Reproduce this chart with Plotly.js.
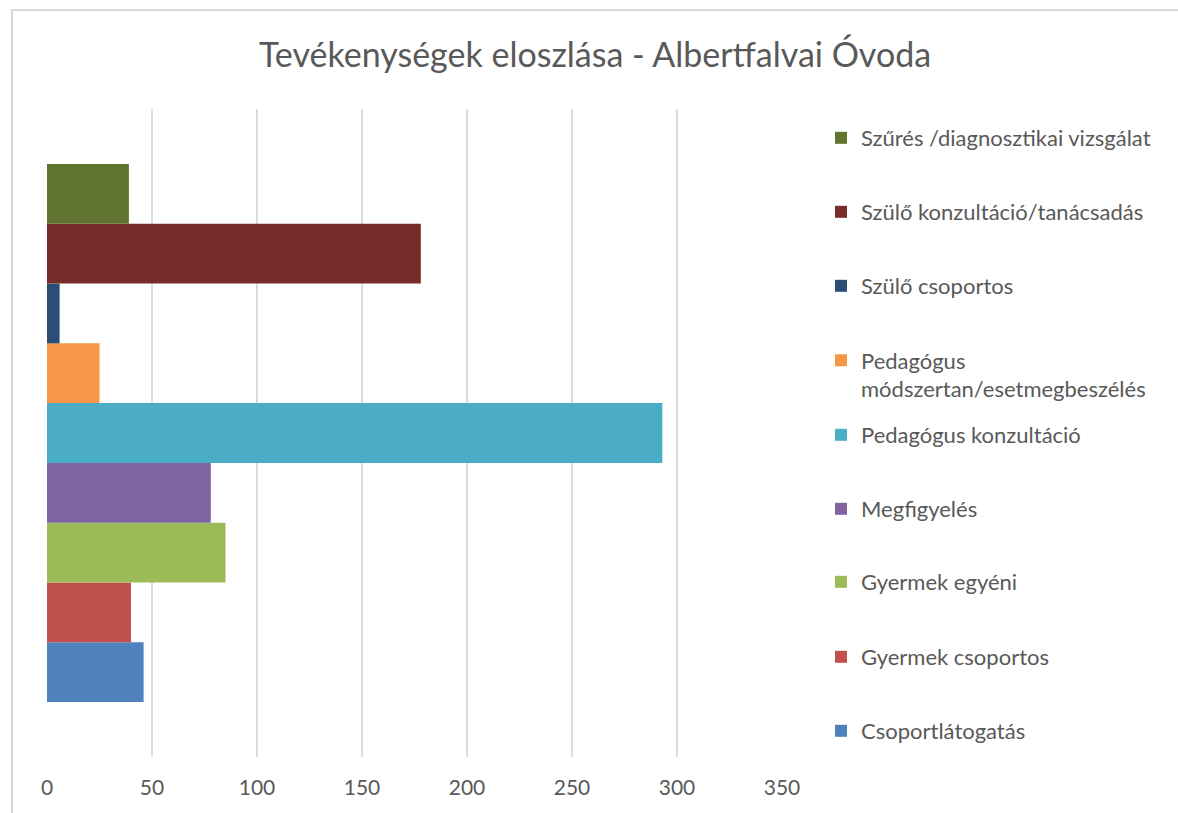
<!DOCTYPE html>
<html>
<head>
<meta charset="utf-8">
<script src="https://cdn.plot.ly/plotly-3.0.1.min.js"></script>
<style>
  html, body { margin: 0; padding: 0; background: #fff; overflow: hidden; }
  #chart { position: absolute; left: 0; top: 0; width: 1178px; height: 813px; }
  #frame { position: absolute; left: 11px; top: 9px; width: 1400px; height: 1000px;
           border: 2px solid #d9d9d9; pointer-events: none; }
</style>
</head>
<body>
<div id="chart"></div>
<div id="frame"></div>
<script>
// Data (bottom-to-top order in the bar group)
var seriesNames = [
  "Csoportlátogatás",
  "Gyermek csoportos",
  "Gyermek egyéni",
  "Megfigyelés",
  "Pedagógus konzultáció",
  "Pedagógus<br>módszertan/esetmegbeszélés",
  "Szülő csoportos",
  "Szülő konzultáció/tanácsadás",
  "Szűrés /diagnosztikai vizsgálat"
];
var seriesValues = [46, 40, 85, 78, 293, 25, 6, 178, 39];
var seriesColors = ["#4f81bd", "#c0504d", "#9bbb59", "#8064a2", "#4bacc6",
                    "#f79646", "#2c4d75", "#772c2a", "#617530"];
var category = ["Albertfalvai Óvoda"];
var xTicks = [0, 50, 100, 150, 200, 250, 300, 350];

// legend rows: pixel centre (top-down) of each entry, for each series
var legendCentres = [731, 657, 582, 509, 435, 375, 286, 212, 138];

var FONT = "Lato, 'Open Sans', sans-serif";
var GREY = "#595959";
var H = 813;

var traces = [];
var layout = {
  width: 1178, height: 813,
  margin: {l: 47, r: 396, t: 109, b: 56},
  paper_bgcolor: "#ffffff",
  plot_bgcolor: "#ffffff",
  barmode: "group",
  bargap: 0.17,
  bargroupgap: 0,
  showlegend: true,
  title: {
    text: "Tevékenységek eloszlása - Albertfalvai Óvoda",
    font: {family: FONT, size: 34, color: GREY},
    x: 595 / 1178, xanchor: "center", xref: "container",
    y: 1 - 55 / H, yanchor: "middle", yref: "container"
  },
  xaxis: {
    range: [0, 350],
    tickvals: xTicks,
    ticktext: xTicks.map(String),
    showgrid: true, gridcolor: "#dcdcdc", gridwidth: 2,
    zeroline: false, showline: false, ticks: "",
    ticklabelstandoff: 16,
    tickfont: {family: FONT, size: 21, color: GREY},
    fixedrange: true
  },
  yaxis: {
    type: "category",
    showticklabels: false, showgrid: false, zeroline: false, showline: false,
    ticks: "", fixedrange: true
  }
};

for (var i = 0; i < seriesNames.length; i++) {
  var lg = i === 0 ? "legend" : "legend" + (i + 1);
  traces.push({
    type: "bar",
    orientation: "h",
    name: seriesNames[i],
    x: [seriesValues[i]],
    y: category,
    marker: {color: seriesColors[i], line: {width: 0}},
    legend: lg,
    hoverinfo: "name+x"
  });
  layout[lg] = {
    x: 821 / 1178, xanchor: "left", xref: "container",
    y: 1 - legendCentres[i] / H, yanchor: "middle", yref: "container",
    bgcolor: "rgba(0,0,0,0)", borderwidth: 0,
    valign: "top",
    font: {family: FONT, size: 22, color: GREY}
  };
}

Plotly.newPlot("chart", traces, layout, {displayModeBar: false, staticPlot: true});
</script>
</body>
</html>
